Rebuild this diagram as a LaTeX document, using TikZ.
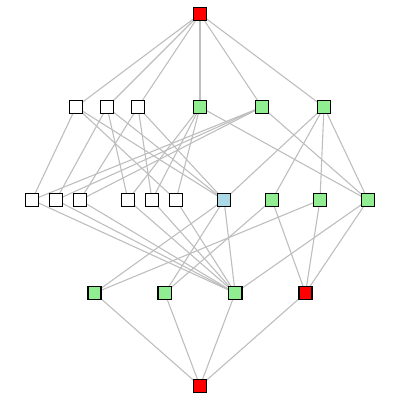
\documentclass[tikz,border=0pt]{standalone}
\usetikzlibrary{positioning,backgrounds}
\definecolor{edgegray}{HTML}{BEBEBE}
\definecolor{nodered}{HTML}{FF0000}
\definecolor{nodegreen}{HTML}{90EE90}
\definecolor{nodeblue}{HTML}{ADD8E6}
\tikzset{
    vtx/.style={rectangle,draw=black,line width=1.4pt,minimum size=13.3pt,inner sep=0pt},
    redvtx/.style={vtx,fill=nodered},
    greenvtx/.style={vtx,fill=nodegreen},
    bluevtx/.style={vtx,fill=nodeblue},
    whitevtx/.style={vtx,fill=white},
    latedge/.style={draw=edgegray,line width=1.1pt}
}
\begin{document}
\begin{tikzpicture}[x=1pt,y=-1pt]
  \useasboundingbox (0,0) rectangle (400,400);

  % top and bottom
  \node[redvtx] (T) at (200,14) {};
  \node[redvtx] (B) at (200,386) {};

  % second row
  \foreach \n/\x in {1/76,2/107,3/138}{\node[whitevtx] (a\n) at (\x,107) {};}
  \foreach \n/\x in {4/200,5/262,6/324}{\node[greenvtx] (a\n) at (\x,107) {};}

  % third row
  \foreach \n/\x in {1/32,2/56,3/80,4/128,5/152,6/176}{\node[whitevtx] (b\n) at (\x,200) {};}
  \node[bluevtx] (b7) at (224,200) {};
  \foreach \n/\x in {8/272,9/320,10/368}{\node[greenvtx] (b\n) at (\x,200) {};}

  % fourth row
  \foreach \n/\x in {1/94.5,2/164.8,3/235.2}{\node[greenvtx] (c\n) at (\x,293) {};}
  \node[redvtx] (c4) at (305.5,293) {};

  % covering relations
  \begin{scope}[on background layer]
    \foreach \u/\v in {T/a1,T/a2,T/a3,T/a4,T/a5,T/a6,
        a1/b1,a1/b6,a1/b7,a2/b2,a2/b4,a2/b7,a3/b3,a3/b5,a3/b7,
        a4/b4,a4/b5,a4/b6,a4/b10,a5/b1,a5/b2,a5/b3,a5/b10,
        a6/b7,a6/b8,a6/b9,a6/b10,
        b1/c3,b2/c3,b3/c3,b4/c3,b5/c3,b6/c3,
        b7/c1,b7/c2,b7/c3,b8/c2,b8/c4,b9/c1,b9/c4,b10/c3,b10/c4,
        c1/B,c2/B,c3/B,c4/B}{
      \draw[latedge] (\u.center) -- (\v.center);
    }
  \end{scope}
\end{tikzpicture}
\end{document}
